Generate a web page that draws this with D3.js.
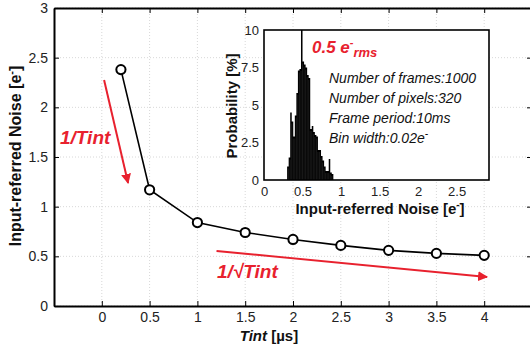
<!DOCTYPE html>
<html>
<head>
<meta charset="utf-8">
<script src="https://cdn.jsdelivr.net/npm/d3@7"></script>
<style>
body { margin: 0; background: #fff; }
svg { font-family: Arial, "Liberation Sans", sans-serif; }
</style>
</head>
<body>
<div id="chart"></div>
<script>
// main curve
const tint  = [0.2, 0.5, 1, 1.5, 2, 2.5, 3, 3.5, 4];
const noise = [2.38, 1.17, 0.84, 0.74, 0.67, 0.61, 0.56, 0.53, 0.51];
const xTicks = [0, 0.5, 1, 1.5, 2, 2.5, 3, 3.5, 4];
const yTicks = [0, 0.5, 1, 1.5, 2, 2.5, 3];

// inset histogram (bin start, probability %)
const binStart = [0.30, 0.32, 0.34, 0.36, 0.38, 0.40, 0.42, 0.44, 0.46, 0.48,
                  0.50, 0.52, 0.54, 0.56, 0.58, 0.60, 0.62, 0.64, 0.66, 0.68,
                  0.70, 0.72, 0.74, 0.76, 0.78, 0.80, 0.82, 0.84, 0.86, 0.88];
const probability = [0.9, 1.5, 4.5, 3.9, 2.9, 4.3, 5.8, 7.3, 7.4, 10,
                     7.9, 7.7, 7.5, 7.0, 6.8, 3.4, 3.6, 3.2, 3.0, 2.9,
                     2.0, 2.0, 1.6, 1.3, 0.9, 0.6, 0.6, 1.4, 0.5, 0.4];
const binWidth = 0.02;
const insetXTicks = [0, 0.5, 1, 1.5, 2, 2.5];
const insetYTicks = [0, 2.5, 5, 7.5, 10];
const notes = ["Number of frames:1000", "Number of pixels:320", "Frame period:10ms", "Bin width:0.02e"];

// red trend arrows, in data units
const arrowFast = [[0.024, 2.276], [0.275, 1.239]];
const arrowSlow = [[1.2, 0.554], [4.03, 0.292]];

const width = 530, height = 350;
const red = "#e8212e";

const svg = d3.select("#chart").append("svg")
    .attr("width", width)
    .attr("height", height);

const x = d3.scaleLinear().domain([-0.5, 4.5]).range([54, 532]);
const y = d3.scaleLinear().domain([0, 3]).range([306, 8]);

// grid
svg.append("g").selectAll("line")
  .data(xTicks)
  .enter().append("line")
    .attr("x1", d => x(d)).attr("x2", d => x(d))
    .attr("y1", y(3)).attr("y2", y(0))
    .attr("stroke", "#d8d8d8").attr("stroke-dasharray", "1,2");
svg.append("g").selectAll("line")
  .data(yTicks)
  .enter().append("line")
    .attr("x1", x(-0.5)).attr("x2", x(4.5))
    .attr("y1", d => y(d)).attr("y2", d => y(d))
    .attr("stroke", "#d8d8d8").attr("stroke-dasharray", "1,2");

// axes
const fmt = d3.format("~g");
const styleAxis = (g, size) => {
  g.select(".domain").attr("stroke", "#000").attr("stroke-width", 2);
  g.selectAll(".tick line").attr("stroke", "#000").attr("stroke-width", 1);
  g.selectAll(".tick text").attr("font-size", size).attr("fill", "#222");
};

svg.append("g")
    .attr("transform", "translate(0," + y(0) + ")")
    .call(d3.axisBottom(x).tickValues(xTicks).tickSize(-5).tickSizeOuter(0).tickPadding(6).tickFormat(fmt))
    .call(g => styleAxis(g, 14));
svg.append("g")
    .attr("transform", "translate(" + x(-0.5) + ",0)")
    .call(d3.axisLeft(y).tickValues(yTicks).tickSize(-5).tickSizeOuter(0).tickPadding(6).tickFormat(fmt))
    .call(g => styleAxis(g, 14));
svg.append("g")
    .attr("transform", "translate(0," + y(3) + ")")
    .call(d3.axisTop(x).tickValues(xTicks).tickSize(-5).tickSizeOuter(0).tickFormat(""))
    .call(g => styleAxis(g, 14));
svg.append("g")
    .attr("transform", "translate(" + x(4.5) + ",0)")
    .call(d3.axisRight(y).tickValues(yTicks).tickSize(-5).tickSizeOuter(0).tickFormat(""))
    .call(g => styleAxis(g, 14));

// axis titles
const yTitle = svg.append("text")
    .attr("transform", "translate(21,156) rotate(-90)")
    .attr("text-anchor", "middle")
    .attr("font-size", 16).attr("font-weight", "bold").attr("fill", "#111");
yTitle.append("tspan").text("Input-referred Noise [e");
yTitle.append("tspan").attr("font-size", 11).attr("dy", -6).text("-");
yTitle.append("tspan").attr("dy", 6).text("]");

const xTitle = svg.append("text")
    .attr("x", 269).attr("y", 341)
    .attr("text-anchor", "middle")
    .attr("font-size", 15).attr("font-weight", "bold").attr("fill", "#111");
xTitle.append("tspan").attr("font-style", "italic").text("Tint");
xTitle.append("tspan").text(" [\u00b5s]");

// curve
svg.append("path")
    .datum(tint.map((t, i) => [t, noise[i]]))
    .attr("fill", "none")
    .attr("stroke", "#000")
    .attr("stroke-width", 1.6)
    .attr("d", d3.line().x(d => x(d[0])).y(d => y(d[1])));

svg.append("g").selectAll("circle")
  .data(tint)
  .enter().append("circle")
    .attr("cx", d => x(d))
    .attr("cy", (d, i) => y(noise[i]))
    .attr("r", 4.6)
    .attr("fill", "#fff")
    .attr("stroke", "#000")
    .attr("stroke-width", 2);

// red arrows
svg.append("defs").append("marker")
    .attr("id", "head")
    .attr("viewBox", "0 0 10 10")
    .attr("refX", 9).attr("refY", 5)
    .attr("markerWidth", 5).attr("markerHeight", 5)
    .attr("orient", "auto")
  .append("path")
    .attr("d", "M0,0L10,5L0,10z")
    .attr("fill", red);

[arrowFast, arrowSlow].forEach(a => {
  svg.append("line")
      .attr("x1", x(a[0][0])).attr("y1", y(a[0][1]))
      .attr("x2", x(a[1][0])).attr("y2", y(a[1][1]))
      .attr("stroke", red)
      .attr("stroke-width", 2)
      .attr("marker-end", "url(#head)");
});

svg.append("text")
    .attr("x", 60).attr("y", 144)
    .attr("font-size", 19).attr("font-weight", "bold").attr("font-style", "italic")
    .attr("fill", red)
    .text("1/Tint");

svg.append("text")
    .attr("x", 217).attr("y", 278)
    .attr("font-size", 19).attr("font-weight", "bold").attr("font-style", "italic")
    .attr("fill", red)
    .text("1/\u221aTint");

// inset
const ix = d3.scaleLinear().domain([0, 2.92]).range([264, 489]);
const iy = d3.scaleLinear().domain([0, 10]).range([180, 30]);

svg.append("rect")
    .attr("x", ix(0)).attr("y", iy(10))
    .attr("width", ix(2.92) - ix(0)).attr("height", iy(0) - iy(10))
    .attr("fill", "#fff");

// histogram drawn as one stepped area so the bins have no seams
const bins = binStart.map((b, i) => [b, probability[i]]);
bins.push([binStart[binStart.length - 1] + binWidth, probability[probability.length - 1]]);
svg.append("path")
    .datum(bins)
    .attr("fill", "#000")
    .attr("d", d3.area().curve(d3.curveStepAfter)
      .x(d => ix(d[0])).y0(iy(0)).y1(d => iy(d[1])));

// faint bin edges
svg.append("g").selectAll("line")
  .data(binStart.slice(1))
  .enter().append("line")
    .attr("x1", d => ix(d)).attr("x2", d => ix(d))
    .attr("y1", (d, i) => iy(Math.min(probability[i], probability[i + 1])) + 2)
    .attr("y2", iy(0))
    .attr("stroke", "#555").attr("stroke-width", 0.3);

svg.append("rect")
    .attr("x", ix(0)).attr("y", iy(10))
    .attr("width", ix(2.92) - ix(0)).attr("height", iy(0) - iy(10))
    .attr("fill", "none")
    .attr("stroke", "#000")
    .attr("stroke-width", 1.6);

svg.append("g")
    .attr("transform", "translate(0," + iy(0) + ")")
    .call(d3.axisBottom(ix).tickValues(insetXTicks).tickSize(0).tickPadding(7).tickFormat(fmt))
    .call(g => { g.select(".domain").remove(); g.selectAll(".tick text").attr("font-size", 13).attr("fill", "#222"); });
svg.append("g")
    .attr("transform", "translate(" + ix(0) + ",0)")
    .call(d3.axisLeft(iy).tickValues(insetYTicks).tickSize(0).tickPadding(5).tickFormat(fmt))
    .call(g => { g.select(".domain").remove(); g.selectAll(".tick text").attr("font-size", 13).attr("fill", "#222"); });

const ixTitle = svg.append("text")
    .attr("x", 380).attr("y", 214)
    .attr("text-anchor", "middle")
    .attr("font-size", 15).attr("font-weight", "bold").attr("fill", "#111");
ixTitle.append("tspan").text("Input-referred Noise [e");
ixTitle.append("tspan").attr("font-size", 10).attr("dy", -6).text("-");
ixTitle.append("tspan").attr("dy", 6).text("]");

svg.append("text")
    .attr("transform", "translate(237,106) rotate(-90)")
    .attr("text-anchor", "middle")
    .attr("font-size", 15).attr("font-weight", "bold").attr("fill", "#111")
    .text("Probability [%]");

const rms = svg.append("text")
    .attr("x", 312).attr("y", 53)
    .attr("font-size", 17).attr("font-weight", "bold").attr("font-style", "italic")
    .attr("fill", red);
rms.append("tspan").text("0.5 e");
rms.append("tspan").attr("font-size", 11).attr("dy", -7).text("-");
rms.append("tspan").attr("font-size", 13).attr("dy", 11).text("rms");

const noteText = svg.append("g").selectAll("text")
  .data(notes)
  .enter().append("text")
    .attr("x", 329)
    .attr("y", (d, i) => 83 + i * 20)
    .attr("font-size", 14).attr("font-style", "italic").attr("fill", "#111")
    .text(d => d);
noteText.filter((d, i) => i === notes.length - 1)
  .append("tspan").attr("font-size", 10).attr("dy", -6).text("-");
</script>
</body>
</html>
